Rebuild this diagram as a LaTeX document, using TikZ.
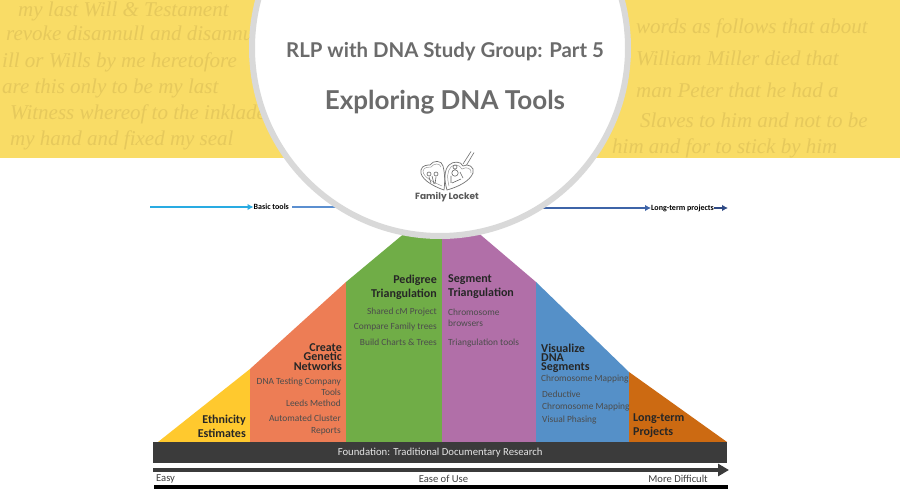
\documentclass[tikz,border=0pt]{standalone}
\usepackage{fontspec}
\setmainfont{Carlito}
\newfontfamily\latofont{Lato}
\newfontfamily\popfont{Poppins}
\newfontfamily\handfont{Liberation Serif}
\definecolor{bandY}{HTML}{F9DC66}
\definecolor{handC}{HTML}{E6C95C}
\definecolor{ringC}{HTML}{D9D9D9}
\definecolor{titleC}{HTML}{6B6B6B}
\definecolor{yelC}{HTML}{FFC92E}
\definecolor{oraC}{HTML}{ED7D55}
\definecolor{greC}{HTML}{70AD47}
\definecolor{purC}{HTML}{B16FA8}
\definecolor{bluC}{HTML}{5590C8}
\definecolor{dorC}{HTML}{CC6A12}
\definecolor{barC}{HTML}{3B3B3B}
\definecolor{arrCy}{HTML}{29ABE2}
\definecolor{arrMid}{HTML}{5B8FD0}
\definecolor{arrRt}{HTML}{3E64A8}
\definecolor{arrNv}{HTML}{2F4A85}
\usetikzlibrary{arrows.meta}
\tikzset{
 hand/.style={font=\handfont\itshape\fontsize{21}{21}\selectfont,text=handC,anchor=base west,inner sep=0pt},
 item/.style={font=\fontsize{9.4}{11.4}\selectfont,inner sep=0pt,text=black!70},
 itemR/.style={item,anchor=east,align=right},
 itemL/.style={item,anchor=west,align=left},
 headwide/.style={font=\bfseries\fontsize{12}{14}\selectfont,text=black!85,inner sep=0pt},
 headtight/.style={font=\bfseries\fontsize{12}{9.3}\selectfont,text=black!85,inner sep=0pt},
 toplab/.style={font=\bfseries\fontsize{8}{8}\selectfont,inner sep=0pt,anchor=west},
 axlab/.style={font=\fontsize{10.6}{11}\selectfont,inner sep=0pt,text=black!75},
 logo/.style={draw=black!55,line width=.7pt,fill=white},
 logoin/.style={draw=black!40,line width=.5pt},
 toparrow/.style={line width=2pt,-{Latex[length=6pt,width=6.5pt]}},
}
\begin{document}
\begin{tikzpicture}[x=1pt,y=-1pt]
\useasboundingbox (0,0) rectangle (900,500);
\fill[white] (0,0) rectangle (900,500);
\fill[bandY] (0,0) rectangle (900,158);
% handwriting
\node[hand] at (18,17) {my last Will \& Testament};
\node[hand] at (6,41) {revoke disannull and disannull};
\node[hand] at (2,68) {ill or Wills by me heretofore};
\node[hand] at (2,94) {are this only to be my last};
\node[hand] at (10,120) {Witness whereof to the inklade};
\node[hand] at (10,146) {my hand and fixed my seal};
\node[hand] at (636,34) {words as follows that about};
\node[hand] at (636,66) {William Miller died that};
\node[hand] at (636,98) {man Peter that he had a};
\node[hand] at (640,128) {Slaves to him and not to be};
\node[hand] at (612,154) {him and for to stick by him};
% pyramid
\coordinate (bl) at (158,442);
\coordinate (ya) at (250,442);
\coordinate (yb) at (250,369);
\coordinate (oa) at (346,442);
\coordinate (ob) at (346,282);
\coordinate (ga) at (442,442);
\coordinate (gb) at (442,202);
\coordinate (pa) at (536,442);
\coordinate (pb) at (536,282);
\coordinate (ba) at (629,442);
\coordinate (bb) at (629,372);
\coordinate (br) at (727,442);
\fill[yelC] (bl)--(yb)--(ya)--cycle;
\fill[oraC] (ya)--(yb)--(ob)--(oa)--cycle;
\fill[greC] (oa)--(ob)--(gb)--(ga)--cycle;
\fill[purC] (ga)--(gb)--(pb)--(pa)--cycle;
\fill[bluC] (pa)--(pb)--(bb)--(ba)--cycle;
\fill[dorC] (ba)--(bb)--(br)--cycle;
% foundation
\node[fill=barC,text=white!90!black,minimum width=574pt,minimum height=21pt,inner sep=0pt,anchor=north west,font=\fontsize{10.7}{11}\selectfont] (found) at (153,442) {Foundation: Traditional Documentary Research};
% ease axis
\coordinate (e1) at (153,470); \coordinate (e2) at (729,470);
\draw[barC,line width=3.6pt,-{Triangle[length=11pt,width=12pt]}] (e1)--(e2);
\coordinate (k1) at (154,487); \coordinate (k2) at (728,487);
\draw[black,line width=3.8pt] (k1)--(k2);
\node[axlab,anchor=west] (easy) at (156,479) {Easy};
\node[axlab] (ease) at (443.5,479) {Ease of Use};
\node[axlab,anchor=east] (hard) at (708,479) {More Difficult};
% top arrows
\node[toplab] (basic) at (253.5,207) {Basic tools};
\node[toplab] (longt) at (651,208) {Long-term projects};
\coordinate (c0) at (150,207);
\coordinate (c1) at (292,207);
\coordinate (c2) at (400,207);
\coordinate (c3) at (480,208);
\coordinate (c4) at (728,208);
\draw[toparrow,color=arrCy] (c0)--(c0-|basic.west);
\draw[line width=2pt,color=arrMid] (c1)--(c2);
\draw[toparrow,color=arrRt] (c3)--(c3-|longt.west);
\draw[toparrow,color=arrNv] (c4-|longt.east)--(c4);
% circle
\node[circle,draw=ringC,line width=6pt,fill=white,minimum size=376pt,inner sep=0pt] (disc) at (440,48) {};
\node[font=\latofont\bfseries\fontsize{20.4}{22}\selectfont,text=titleC,inner sep=0pt] (t1) at (445,52) {RLP with DNA Study Group: Part 5};
\node[font=\latofont\bfseries\fontsize{26}{27}\selectfont,text=titleC,inner sep=0pt] (t2) at (445,102) {Exploring DNA Tools};
% logo
\draw[black!55,line width=.6pt] (463,164)--(471,151.5) (466,166)--(474,152.5);
\draw[logo] (444,190) .. controls (432,186) and (419,178) .. (421,170) .. controls (422,165) and (428,165) .. (430,165) .. controls (433,160) and (442,160) .. (443,166) .. controls (445,174) and (445,182) .. (444,190) -- cycle;
\draw[logo] (447,190) .. controls (444,180) and (444,170) .. (449,165) .. controls (453,161) and (461,161) .. (463,166) .. controls (468,163) and (475,167) .. (473,173) .. controls (470,181) and (458,187) .. (447,190) -- cycle;
\draw[logoin] (442,186) .. controls (433,182) and (423,177) .. (423,171) .. controls (424,167) and (428,167) .. (431,167) .. controls (434,163) and (440,163) .. (441,167);
\draw[logoin] (449,186) .. controls (447,178) and (447,171) .. (451,167) .. controls (454,164) and (459,164) .. (462,169) .. controls (467,166) and (472,169) .. (471,173);
\draw[black!60,line width=.6pt] (429,174) circle (2pt) (436,174) circle (2pt) (429,177)--(431,183) (436,177)--(435,184) (432,176)--(434,184);
\draw[black!60,line width=.6pt] (455,173) circle (3.2pt) (461,179)--(452,183) (455,167) circle (2pt) (460,172)--(463,178) (451,176)--(451,183);
\node[font=\popfont\bfseries\fontsize{9}{9}\selectfont,text=black!65,inner sep=0pt] (fam) at (447,197) {Family Locket};
% section text
\node[headwide,align=right,anchor=east] (eth) at (246,426) {Ethnicity\\Estimates};
\node[headtight,align=right,anchor=north east] (net) at (342,343.5) {Create\\Genetic\\Networks};
\node[itemR] (i1) at (341,386.5) {DNA Testing Company\\Tools};
\node[itemR] (i2) at (341,403) {Leeds Method};
\node[itemR] (i3) at (341,425) {Automated Cluster\\Reports};
\node[headwide,align=right,anchor=east] (ped) at (437,287) {Pedigree\\Triangulation};
\node[itemR] (g1) at (437,312) {Shared cM Project};
\node[itemR] (g2) at (437,327) {Compare Family trees};
\node[itemR] (g3) at (437,342) {Build Charts \& Trees};
\node[headwide,align=left,anchor=west] (seg) at (448,287) {Segment\\Triangulation};
\node[itemL] (p1) at (448,318) {Chromosome\\browsers};
\node[itemL] (p2) at (448,343) {Triangulation tools};
\node[headtight,align=left,anchor=north west] (vis) at (541,343.5) {Visualize\\DNA\\Segments};
\node[itemL] (b1) at (541,379.5) {Chromosome Mapping};
\node[itemL] (b2) at (542,401) {Deductive\\Chromosome Mapping};
\node[itemL] (b3) at (542,420) {Visual Phasing};
\node[headwide,align=left,anchor=west] (lon) at (633,426) {Long-term\\Projects};
\end{tikzpicture}
\end{document}
